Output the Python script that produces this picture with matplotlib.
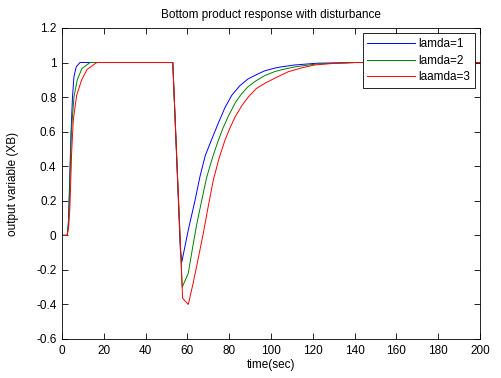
import matplotlib
matplotlib.use('Agg')
import matplotlib.pyplot as plt

plt.rcParams['font.family'] = ['Liberation Sans', 'DejaVu Sans']
plt.rcParams['font.size'] = 8.5

# lamda = 1
t_l1 = [0, 2.5, 3.0, 3.35, 4.3, 5.0, 5.7, 6.8, 8.6, 20, 53, 56.6, 57.3, 60.4,
        63.6, 66, 68.5, 71.6, 74.8, 78, 81.2, 85, 89, 93.9, 97, 101.9, 105,
        111.5, 122, 140, 200]
y_l1 = [0, 0, 0.06, 0.195, 0.59, 0.8, 0.918, 0.975, 1.0, 1.0, 1.0, -0.08,
        -0.155, 0.03, 0.2, 0.34, 0.46, 0.555, 0.65, 0.74, 0.81, 0.865, 0.905,
        0.935, 0.952, 0.968, 0.975, 0.986, 0.996, 1.0, 1.0]

# lamda = 2
t_l2 = [0, 2.5, 3.1, 3.6, 4.45, 5.7, 7.3, 9.5, 13.4, 53, 57.5, 60.4, 62.5,
        64.4, 66.8, 69.2, 72, 74.8, 77, 79.6, 83, 86, 89, 92.3, 97, 101.9, 105,
        111.5, 122, 140, 200]
y_l2 = [0, 0, 0.08, 0.25, 0.6, 0.8, 0.9, 0.965, 1.0, 1.0, -0.3, -0.22, -0.07,
        0.06, 0.2, 0.335, 0.45, 0.55, 0.62, 0.69, 0.77, 0.82, 0.86, 0.89, 0.925,
        0.948, 0.958, 0.975, 0.992, 1.0, 1.0]

# lamda = 3
t_l3 = [0, 2.5, 3.2, 3.8, 4.6, 5.4, 7.0, 9.4, 12, 16.6, 53, 57.7, 60.4, 62.5,
        64.4, 67.6, 70, 72.4, 75, 78, 80.5, 82.8, 86, 89.1, 93, 97.1, 101.9,
        108.3, 115, 121, 130, 140, 200]
y_l3 = [0, 0, 0.05, 0.17, 0.48, 0.67, 0.81, 0.9, 0.96, 1.0, 1.0, -0.364,
        -0.40, -0.29, -0.18, 0.012, 0.17, 0.32, 0.44, 0.552, 0.625, 0.685,
        0.75, 0.80, 0.85, 0.88, 0.91, 0.947, 0.97, 0.986, 0.995, 1.0, 1.0]

labels = ['lamda=1', 'lamda=2', 'laamda=3']
x_ticks = list(range(0, 201, 20))
y_ticks = [-0.6, -0.4, -0.2, 0, 0.2, 0.4, 0.6, 0.8, 1, 1.2]


def plot_data():
    """Plotting the three responses."""
    fig = plt.figure(figsize=(5.01, 3.78), dpi=100)
    ax = fig.add_axes([0.1238, 0.1032, 0.8343, 0.8228])

    ax.plot(t_l1, y_l1, color='#0000ff', lw=0.7, label=labels[0])
    ax.plot(t_l2, y_l2, color='#008000', lw=0.7, label=labels[1])
    ax.plot(t_l3, y_l3, color='#ff0000', lw=0.7, label=labels[2])

    ax.set_xlim(0, 200)
    ax.set_ylim(-0.6, 1.2)
    ax.set_xticks(x_ticks)
    ax.set_yticks(y_ticks)
    ax.set_yticklabels([f'{v:g}' for v in y_ticks])
    ax.tick_params(direction='in', top=True, right=True, length=4, width=0.6,
                   pad=4)
    for sp in ax.spines.values():
        sp.set_linewidth(0.6)

    ax.set_title('Bottom product response with disturbance', fontsize=8.5,
                 pad=7)
    ax.set_xlabel('time(sec)', labelpad=2)
    ax.set_ylabel('output variable (XB)', labelpad=12)

    leg = ax.legend(loc='upper right', fancybox=False, framealpha=1,
                    edgecolor='black', borderpad=0.4, handlelength=4.0,
                    handletextpad=0.3, labelspacing=0.4, borderaxespad=0.45)
    leg.get_frame().set_linewidth(0.6)

    fig.savefig('out.png', dpi=100)


if __name__ == '__main__':
    plot_data()
